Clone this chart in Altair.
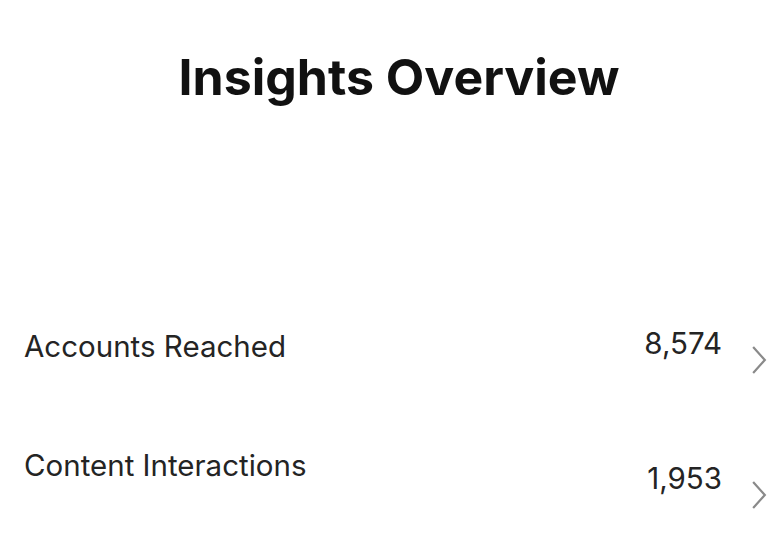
import altair as alt
import pandas as pd

title_text = ["Insights Overview"]
metrics = ["Accounts Reached", "Content Interactions"]
values = [8574, 1953]
value_labels = ["8,574", "1,953"]

df = pd.DataFrame({"metric": metrics, "value": values, "value_label": value_labels})
tdf = pd.DataFrame({"title": title_text})

FONT = "Inter"
W, H = 760, 535

base = alt.Chart(df)

title_layer = alt.Chart(tdf).mark_text(
    font=FONT, fontSize=50, fontWeight="bold", color="#111111",
    align="center", baseline="alphabetic"
).encode(
    x=alt.value(391), y=alt.value(87), text="title:N"
)

labels = base.mark_text(
    font=FONT, fontSize=29.5, color="#242424", align="left", baseline="middle"
).encode(
    x=alt.value(16),
    y=alt.Y("metric:N", sort=metrics, axis=None,
            scale=alt.Scale(type="point", range=[340, 459], padding=0)),
    text="metric:N",
)

nums = base.mark_text(
    font=FONT, fontSize=29.5, color="#242424", align="right", baseline="middle"
).encode(
    x=alt.value(714),
    y=alt.Y("metric:N", sort=metrics, axis=None,
            scale=alt.Scale(type="point", range=[337, 472], padding=0)),
    text="value_label:N",
)

chev = base.mark_point(
    shape="M-0.45,-1L0.45,0L-0.45,1", filled=False, color="#8a8a8a",
    strokeWidth=2.2, size=676, opacity=1
).encode(
    x=alt.value(751),
    y=alt.Y("metric:N", sort=metrics, axis=None,
            scale=alt.Scale(type="point", range=[352, 487], padding=0)),
)

chart = alt.layer(title_layer, labels, nums, chev).resolve_scale(
    y="independent"
).properties(
    width=W, height=H, background="white",
    autosize=alt.AutoSizeParams(type="fit", contains="padding"),
    padding=0,
).configure_view(stroke=None)

chart.save("out.html", embed_options={"renderer": "svg", "actions": False})
